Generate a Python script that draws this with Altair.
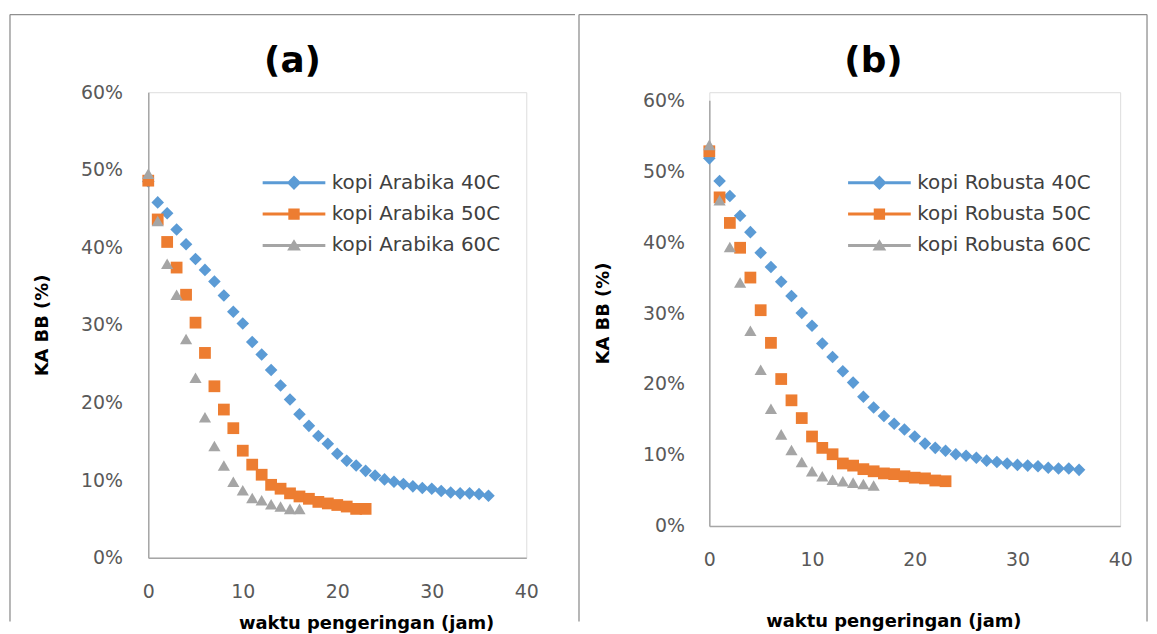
import altair as alt
import pandas as pd

# ---------------- data ----------------
x_ticks = [0, 10, 20, 30, 40]
y_ticks = [0, 10, 20, 30, 40, 50, 60]

hours_40 = list(range(0, 37))
hours_50 = list(range(0, 24))
hours_60 = list(range(0, 17))

names_a = ["kopi Arabika 40C", "kopi Arabika 50C", "kopi Arabika 60C"]
names_b = ["kopi Robusta 40C", "kopi Robusta 50C", "kopi Robusta 60C"]

arabika_40 = [48.5, 45.8, 44.4, 42.3, 40.4, 38.5, 37.1, 35.6, 33.8, 31.7, 30.2,
              27.8, 26.2, 24.2, 22.2, 20.4, 18.5, 17.0, 15.7, 14.7, 13.4, 12.5,
              11.9, 11.2, 10.6, 10.1, 9.8, 9.5, 9.2, 9.0, 8.9, 8.6, 8.4, 8.3,
              8.3, 8.2, 8.0]
arabika_50 = [48.6, 43.6, 40.7, 37.4, 33.9, 30.3, 26.4, 22.1, 19.1, 16.7, 13.8,
              12.0, 10.7, 9.4, 8.9, 8.3, 7.9, 7.6, 7.2, 7.0, 6.8, 6.6, 6.3, 6.3]
arabika_60 = [49.5, 43.4, 37.9, 33.9, 28.2, 23.2, 18.1, 14.4, 11.9, 9.8, 8.7,
              7.7, 7.4, 6.9, 6.6, 6.3, 6.3]

robusta_40 = [51.8, 48.6, 46.5, 43.7, 41.4, 38.5, 36.5, 34.4, 32.4, 30.0, 28.2,
              25.7, 23.8, 21.8, 20.2, 18.2, 16.7, 15.5, 14.4, 13.6, 12.6, 11.6,
              11.0, 10.6, 10.1, 9.9, 9.6, 9.2, 9.0, 8.8, 8.6, 8.5, 8.4, 8.2,
              8.1, 8.1, 7.9]
robusta_50 = [52.8, 46.3, 42.7, 39.2, 35.0, 30.4, 25.8, 20.7, 17.7, 15.2, 12.6,
              11.0, 10.1, 8.8, 8.5, 8.0, 7.7, 7.4, 7.3, 7.0, 6.8, 6.7, 6.4, 6.3]
robusta_60 = [53.7, 45.9, 39.3, 34.3, 27.5, 22.0, 16.5, 12.9, 10.7, 9.0, 7.7,
              7.0, 6.5, 6.3, 6.1, 5.9, 5.7]

panel_titles = ["(a)", "(b)"]
y_title = "KA BB (%)"
x_title = "waktu pengeringan (jam)"

# ---------------- styling ----------------
FONT = "DejaVu Sans"
colors = ["#5B9BD5", "#ED7D31", "#A5A5A5"]
shapes = ["diamond", "square", "triangle-up"]
sizes = [160, 140, 150]
frame_color = "#8f8f8f"
axis_color = "#a6a6a6"

# legend symbols: marker with a line through it (units scaled by sqrt(symbolSize)/2)
line_path = "M-10.5,-0.5H10.5V0.5H-10.5Z"
legend_paths = [
    line_path + " M0,-2.4L2.4,0L0,2.4L-2.4,0Z",
    line_path + " M-1.9,-1.9H1.9V1.9H-1.9Z",
    line_path + " M0,-2.1L2.3,1.7H-2.3Z",
]


def build_df(names, series):
    rows = []
    for name, hrs, vals in zip(names, [hours_40, hours_50, hours_60], series):
        for h, v in zip(hrs, vals):
            rows.append({"series": name, "jam": h, "ka": v})
    return pd.DataFrame(rows)


def one_row():
    return pd.DataFrame({"k": [0]})


def panel(title_text, names, series, W, H, g):
    df = build_df(names, series)
    top = g["ytop"]
    x = alt.X(
        "jam:Q",
        scale=alt.Scale(domain=[0, 40], nice=False),
        axis=alt.Axis(
            values=x_ticks, title=x_title, grid=False, ticks=False, tickSize=0,
            labelFlush=False, labelPadding=g["xlabpad"], labelFont=FONT,
            labelFontSize=19, labelColor="#595959", domainColor=axis_color,
            domainWidth=1.5, titleFont=FONT, titleFontSize=18,
            titleFontWeight="bold", titleColor="#000000", titleX=g["xtx"],
            titleY=g["xty"], titleBaseline="middle", titleAlign="center",
        ),
    )
    y = alt.Y(
        "ka:Q",
        scale=alt.Scale(domain=[0, 60], nice=False, range=[H, top]),
        axis=alt.Axis(
            values=y_ticks, labelExpr="datum.value + '%'", title=y_title,
            grid=False, ticks=False, tickSize=0, labelFlush=False,
            labelPadding=g["ylabpad"], labelFont=FONT, labelFontSize=19,
            labelColor="#595959", domainColor=axis_color, domainWidth=1.5,
            titleFont=FONT, titleFontSize=18, titleFontWeight="bold",
            titleColor="#000000", titleX=g["ytx"], titleY=(H + top) / 2,
            titleBaseline="middle", titleAlign="center",
        ),
    )

    layers = []
    # frame of the chart area
    L, T, R, B = g["frame"]
    rule = dict(color=frame_color, strokeWidth=1.3)
    layers.append(alt.Chart(one_row()).mark_rule(**rule)
                  .encode(x=alt.value(L), y=alt.value(T), y2=alt.value(B)))
    layers.append(alt.Chart(one_row()).mark_rule(**rule)
                  .encode(x=alt.value(L), x2=alt.value(R), y=alt.value(T)))
    if g["right_edge"]:
        layers.append(alt.Chart(one_row()).mark_rule(**rule)
                      .encode(x=alt.value(R), y=alt.value(T), y2=alt.value(B)))

    # data points
    for name, c, s, sz in zip(names, colors, shapes, sizes):
        layers.append(
            alt.Chart(df).transform_filter(alt.datum.series == name)
            .mark_point(shape=s, filled=True, size=sz, color=c, opacity=1)
            .encode(x=x, y=y)
        )

    # invisible layer that carries the legend
    legend = alt.Legend(
        title=None, orient="none", legendX=g["legx"], legendY=g["legy"],
        padding=0, rowPadding=11.5, symbolSize=36, symbolOpacity=1,
        symbolStrokeWidth=0, labelOffset=28, labelFont=FONT, labelFontSize=20,
        labelColor="#404040", labelLimit=400,
    )
    layers.append(
        alt.Chart(df).mark_point(filled=True, opacity=0, size=36)
        .encode(
            x=x, y=y,
            color=alt.Color("series:N", scale=alt.Scale(domain=names, range=colors), legend=legend),
            shape=alt.Shape("series:N", scale=alt.Scale(domain=names, range=legend_paths), legend=legend),
        )
    )

    # chart title
    layers.append(
        alt.Chart(pd.DataFrame({"label": [title_text]}))
        .mark_text(font=FONT, fontSize=36, fontWeight="bold", color="#000000",
                   align="center", baseline="middle")
        .encode(text="label:N", x=alt.value(g["tx"]), y=alt.value(g["ty"]))
    )
    return alt.layer(*layers).properties(width=W, height=H)


# both plot areas start at the same height; panel (b) keeps 60% lower via its range
geom_a = dict(ytop=0, xlabpad=25, xtx=219, xty=66, ylabpad=26, ytx=-106,
              legx=136.5, legy=81, tx=145, ty=-31, right_edge=False,
              frame=(-139, -78, 429, 532))
geom_b = dict(ytop=8, xlabpad=25, xtx=185, xty=96, ylabpad=25, ytx=-106,
              legx=161, legy=81, tx=165, ty=-31, right_edge=True,
              frame=(-131, -78, 440, 532))

pa = panel(panel_titles[0], names_a, [arabika_40, arabika_50, arabika_60], 380, 468, geom_a)
pb = panel(panel_titles[1], names_b, [robusta_40, robusta_50, robusta_60], 413, 436, geom_b)

chart = (
    alt.hconcat(pa, pb, spacing=0)
    .resolve_scale(color="independent", shape="independent")
    .resolve_legend(color="independent", shape="independent")
    .properties(padding={"left": 0, "top": 3, "right": 0, "bottom": 0})
    .configure_view(strokeWidth=0)
    .configure(background="#ffffff")
)

chart.save("out.html", embed_options={"renderer": "svg", "actions": False})
